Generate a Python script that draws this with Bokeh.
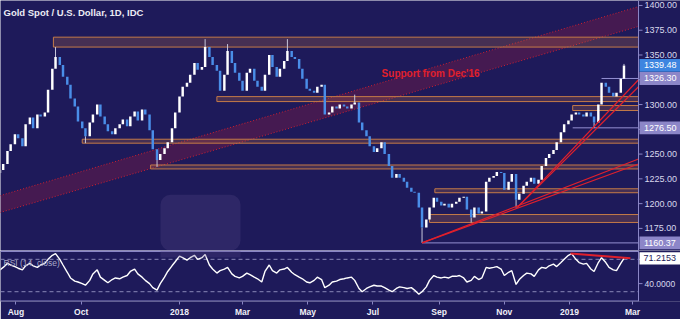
import pandas as pd
from bokeh.plotting import figure
from bokeh.layouts import column
from bokeh.models import (Range1d, FixedTicker, Label, BoxAnnotation, ColumnDataSource, Span)
from bokeh.core.properties import value
from bokeh.embed import file_html
from bokeh.resources import INLINE

# ---------------- data ----------------
title_text = "Gold Spot / U.S. Dollar, 1D, IDC"
first_day = "2017-07-17"
first_open = 1231
closes = [
    1234, 1240, 1253, 1260, 1270, 1266, 1258, 1280, 1287, 1276,
    1290, 1288, 1292, 1315, 1336, 1348, 1340, 1328, 1320, 1306,
    1298, 1283, 1276, 1268, 1282, 1290, 1300, 1288, 1280, 1273,
    1270, 1276, 1280, 1285, 1278, 1288, 1293, 1284, 1295, 1290,
    1274, 1255, 1244, 1250, 1256, 1262, 1276, 1292, 1308, 1318,
    1322, 1330, 1342, 1335, 1338, 1358, 1348, 1340, 1334, 1314,
    1330, 1354, 1342, 1332, 1324, 1314, 1332, 1336, 1324, 1318,
    1314, 1330, 1350, 1338, 1328, 1336, 1344, 1354, 1348, 1346,
    1336, 1326, 1316, 1314, 1312, 1318, 1320, 1290, 1292, 1298,
    1296, 1300, 1298, 1296, 1300, 1302, 1282, 1274, 1268, 1258,
    1252, 1256, 1262, 1250, 1238, 1226, 1230, 1226, 1222, 1216,
    1212, 1211, 1196, 1176, 1184, 1196, 1206, 1202, 1198, 1200,
    1196, 1200, 1202, 1206, 1207, 1194, 1186, 1196, 1190, 1192,
    1222, 1226, 1228, 1232, 1231, 1214, 1222, 1230, 1204, 1210,
    1218, 1222, 1226, 1220, 1224, 1238, 1246, 1250, 1254, 1262,
    1272, 1280, 1284, 1290, 1292, 1290, 1288, 1292, 1288, 1282,
    1300, 1322, 1318, 1312, 1308, 1312, 1326, 1339.48,
]
rsi_values = [
    57, 60, 65, 63, 61, 59, 57, 62, 65, 62,
    60, 63, 65, 70, 75, 77, 70, 63, 54, 47,
    43, 42, 40, 38, 44, 52, 57, 48, 44, 41,
    45, 47, 46, 48, 50, 55, 58, 52, 48, 44,
    40, 35, 32, 40, 48, 55, 62, 67, 74, 72,
    69, 72, 75, 70, 72, 76, 63, 58, 53, 56,
    58, 60, 52, 49, 47, 49, 53, 51, 48, 46,
    42, 55, 63, 56, 53, 57, 58, 60, 54, 51,
    48, 46, 42, 41, 44, 48, 45, 35, 38, 42,
    43, 45, 46, 47, 48, 44, 34, 30, 34, 36,
    38, 37, 37, 35, 32, 30, 34, 36, 35, 34,
    35, 32, 27, 30, 36, 44, 50, 48, 47, 48,
    47, 49, 49, 50, 47, 42, 44, 49, 45, 47,
    60, 59, 60, 61, 58, 50, 54, 56, 39, 45,
    50, 53, 52, 49, 57, 60, 59, 62, 64, 61,
    66, 70, 75, 77, 70, 66, 64, 65, 58, 55,
    66, 72, 66, 60, 57, 56, 65, 71.2153,
]
hi_bars = [15, 55, 61, 77, 95, 167]
hi_vals = [1358, 1366, 1361, 1366, 1310, 1341]
lo_bars = [23, 42, 113, 126, 138, 159]
lo_vals = [1261, 1237, 1160.37, 1181, 1196, 1276.5]

zone_start = ["2017-09-05", "2018-02-05", "2019-01-04", "2017-10-02",
              "2017-12-05", "2018-08-28", "2018-08-23"]
zone_bottom = [1358, 1303, 1294, 1261, 1235, 1211, 1181]
zone_top = [1368, 1308, 1299, 1265, 1239, 1215, 1189]

level_start = ["2019-01-31", "2019-01-04", "2018-08-16"]
level_value = [1326.30, 1276.50, 1160.37]
level_text = ["1326.30", "1276.50", "1160.37"]
last_price = 1339.48
last_text = "1339.48"

channel_dates = ["2017-07-17", "2019-03-07"]
channel_upper = [1208, 1399]
channel_lower = [1191, 1379]
channel_text = "Support from Dec'16"
channel_text_pos = ("2018-08-24", 1331)

trend_start_dates = ["2018-08-16", "2018-08-16", "2018-11-13", "2018-11-13"]
trend_start_vals = [1160.37, 1160.37, 1196, 1196]
trend_end_vals = [1240, 1245, 1318, 1325]

rsi_div_dates = ["2019-01-02", "2019-02-27"]
rsi_div_vals = [77.3, 71.3]
rsi_last = 71.2153
rsi_last_text = "71.2153"
rsi_name = "RSI (14, close)"

month_ticks = ["2017-08-01", "2017-10-01", "2018-01-01", "2018-03-01", "2018-05-01",
               "2018-07-01", "2018-09-01", "2018-11-01", "2019-01-01", "2019-03-01"]
month_labels = ["Aug", "Oct", "2018", "Mar", "May", "Jul", "Sep", "Nov", "2019", "Mar"]
price_ticks = [1175, 1200, 1225, 1250, 1275, 1300, 1325, 1350, 1375, 1400]
rsi_ticks = [40, 70]
rsi_bands = [70, 30]

# ---------------- style ----------------
BG = "#1e1a5a"
LAV = "#8a86c6"
LEVEL = "#9590d2"
RED = "#e0202c"
UPC = "#ffffff"
DNC = "#4a8ee8"
TXT = "#d8d8ec"
FONT = "Liberation Sans"

X0 = pd.Timestamp("2017-07-17 12:00")
X1 = pd.Timestamp("2019-03-06 14:00")          # position of the price-axis line
DAY = 86400000


def xpx(px):
    return X0 + (X1 - X0) * (px / 638.0)


X_END = xpx(680)
X1_MS = X1.value / 1e6

start = pd.Timestamp(first_day)
dates = [start + pd.Timedelta(days=7 * (i // 2) + 3 * (i % 2)) for i in range(len(closes))]
opens = [first_open] + closes[:-1]

up_src = ColumnDataSource(dict(
    x=[d for d, o, c in zip(dates, opens, closes) if c >= o],
    top=[c for o, c in zip(opens, closes) if c >= o],
    bot=[o for o, c in zip(opens, closes) if c >= o]))
dn_src = ColumnDataSource(dict(
    x=[d for d, o, c in zip(dates, opens, closes) if c < o],
    top=[o for o, c in zip(opens, closes) if c < o],
    bot=[c for o, c in zip(opens, closes) if c < o]))

# ---------------- price panel ----------------
PY0, PY1 = 1152.7, 1405
p = figure(width=680, height=250, x_range=Range1d(X0, X_END), y_range=Range1d(PY0, PY1),
           x_axis_type="datetime", x_axis_location=None, y_axis_location=None,
           toolbar_location=None, output_backend="svg",
           min_border_left=0, min_border_right=0, min_border_top=0, min_border_bottom=0,
           background_fill_color=BG, border_fill_color=BG, outline_line_color=None)
p.grid.visible = False

cd = [pd.Timestamp(d) for d in channel_dates]
p.patch(x=[cd[0], cd[1], cd[1], cd[0]],
        y=[channel_lower[0], channel_lower[1], channel_upper[1], channel_upper[0]],
        fill_color=RED, fill_alpha=0.2, line_color=None)
p.line(cd, channel_upper, line_color=RED, line_width=1, line_dash="1 2", line_alpha=0.9)
p.line(cd, channel_lower, line_color=RED, line_width=1, line_dash="1 2", line_alpha=0.9)

p.quad(left=[pd.Timestamp(d) for d in zone_start], right=[X1] * len(zone_start),
       bottom=zone_bottom, top=zone_top, fill_color="#c07040", fill_alpha=0.25,
       line_color="#c47a48", line_width=1)

p.segment(x0=[pd.Timestamp(d) for d in level_start], y0=level_value,
          x1=[X1] * len(level_start), y1=level_value, line_color=LEVEL, line_width=1)

p.add_layout(BoxAnnotation(left=160, right=240, left_units="screen", right_units="screen",
                           bottom=PY0, top=1209, fill_color="#5a4a8a", fill_alpha=0.28,
                           line_color=None, border_radius=10))

p.segment(x0=[dates[i] for i in hi_bars], x1=[dates[i] for i in hi_bars],
          y0=[max(opens[i], closes[i]) for i in hi_bars], y1=hi_vals,
          line_color="#c8c8dc", line_width=1)
p.segment(x0=[dates[i] for i in lo_bars], x1=[dates[i] for i in lo_bars],
          y0=[min(opens[i], closes[i]) for i in lo_bars], y1=lo_vals,
          line_color="#c8c8dc", line_width=1)

W = 2.3 * DAY
p.vbar(x="x", width=W, top="top", bottom="bot", fill_color=UPC, line_color=None, source=up_src)
p.vbar(x="x", width=W, top="top", bottom="bot", fill_color=DNC, line_color=None, source=dn_src)

p.segment(x0=[pd.Timestamp(d) for d in trend_start_dates], y0=trend_start_vals,
          x1=[X1] * len(trend_start_dates), y1=trend_end_vals, line_color=RED, line_width=1.2)

p.add_layout(Label(x=pd.Timestamp(channel_text_pos[0]), y=channel_text_pos[1], text=channel_text,
                   text_color=RED, text_font=FONT, text_font_style="bold",
                   text_font_size="10px", text_align="center", text_baseline="middle"))
p.add_layout(Label(x=3, x_units="screen", y=1393, text=title_text, text_color="#ececf4",
                   text_font=FONT, text_font_style="bold", text_font_size="9.5px",
                   text_baseline="middle"))

# right-hand price scale (drawn inside the frame)
p.quad(left=[X1], right=[X_END], bottom=[PY0], top=[PY1], fill_color=BG, line_color=None)
p.add_layout(Span(location=X1_MS, dimension="height", line_color=LAV, line_width=1))
p.segment(x0=[X1] * len(price_ticks), x1=[xpx(642)] * len(price_ticks),
          y0=price_ticks, y1=price_ticks, line_color=LAV, line_width=1)
p.text(x=[xpx(644)] * len(price_ticks), y=price_ticks,
       text=[f"{v:.2f}" for v in price_ticks], text_color=TXT,
       text_font=value(FONT), text_font_size=value("9px"), text_baseline="middle")

box_vals = [last_price] + level_value
box_texts = [last_text] + level_text
box_colors = ["#3d85e0"] + ["#8c86c8"] * len(level_value)
p.quad(left=[xpx(639)] * len(box_vals), right=[X_END] * len(box_vals),
       bottom=[v - 6.5 for v in box_vals], top=[v + 6.5 for v in box_vals],
       fill_color=box_colors, line_color=None)
p.text(x=[xpx(643.5)] * len(box_vals), y=box_vals, text=box_texts, text_color="white",
       text_font=value(FONT), text_font_size=value("9px"), text_baseline="middle")

# ---------------- RSI panel ----------------
RY0, RY1 = 17.9, 80.9
r = figure(width=680, height=69, x_range=p.x_range, y_range=Range1d(RY0, RY1),
           x_axis_type="datetime", y_axis_location=None,
           toolbar_location=None, output_backend="svg",
           min_border_left=0, min_border_right=0, min_border_top=0, min_border_bottom=17,
           background_fill_color=BG, border_fill_color=BG, outline_line_color=None)
r.grid.visible = False
ax = r.xaxis[0]
ax.axis_line_color = None
ax.major_tick_line_color = LAV
ax.minor_tick_line_color = None
ax.major_tick_in = 0
ax.major_tick_out = 3
ax.major_label_standoff = 2
ax.major_label_text_color = "#f0f0f8"
ax.major_label_text_font = FONT
ax.major_label_text_font_size = "8.5px"
ax.major_label_text_font_style = "bold"
tick_ms = [int(pd.Timestamp(d).value // 10**6) for d in month_ticks]
ax.ticker = FixedTicker(ticks=tick_ms)
ax.major_label_overrides = {t: l for t, l in zip(tick_ms, month_labels)}

r.add_layout(BoxAnnotation(left=160, right=240, left_units="screen", right_units="screen",
                           bottom=72.4, top=RY1, fill_color="#5a4a8a", fill_alpha=0.28,
                           line_color=None))

r.segment(x0=[X0] * len(rsi_bands), x1=[X1] * len(rsi_bands), y0=rsi_bands, y1=rsi_bands,
          line_color="#8a88b8", line_dash="4 3", line_width=1)
r.add_layout(Label(x=3, x_units="screen", y=65, text=rsi_name, text_color="#a8a8c8",
                   text_font=FONT, text_font_size="8.5px", text_baseline="middle"))

r.line(dates, rsi_values, line_color="white", line_width=1.4)
r.line([pd.Timestamp(d) for d in rsi_div_dates], rsi_div_vals, line_color=RED, line_width=2)

# panel borders
r.quad(left=[X0, X0], right=[X1, X1], bottom=[79.1, RY0], top=[RY1, 19.1],
       fill_color=LAV, line_color=None)

# right-hand RSI scale
r.quad(left=[X1], right=[X_END], bottom=[RY0], top=[RY1], fill_color=BG, line_color=None)
r.add_layout(Span(location=X1_MS, dimension="height", line_color=LAV, line_width=1))
r.segment(x0=[X1] * len(rsi_ticks), x1=[xpx(642)] * len(rsi_ticks),
          y0=rsi_ticks, y1=rsi_ticks, line_color=LAV, line_width=1)
r.text(x=[xpx(644)] * len(rsi_ticks), y=rsi_ticks,
       text=[f"{v:.4f}" for v in rsi_ticks], text_color=TXT,
       text_font=value(FONT), text_font_size=value("8.5px"), text_baseline="middle")
r.quad(left=[xpx(639)], right=[X_END], bottom=[rsi_last - 7.6], top=[rsi_last + 7.6],
       fill_color="white", line_color=None)
r.text(x=[xpx(643)], y=[rsi_last], text=[rsi_last_text], text_color="#1e1a5a",
       text_font=value(FONT), text_font_size=value("9px"), text_baseline="middle")

layout = column(p, r, spacing=0)
open("out.html", "w").write(file_html(layout, INLINE))
